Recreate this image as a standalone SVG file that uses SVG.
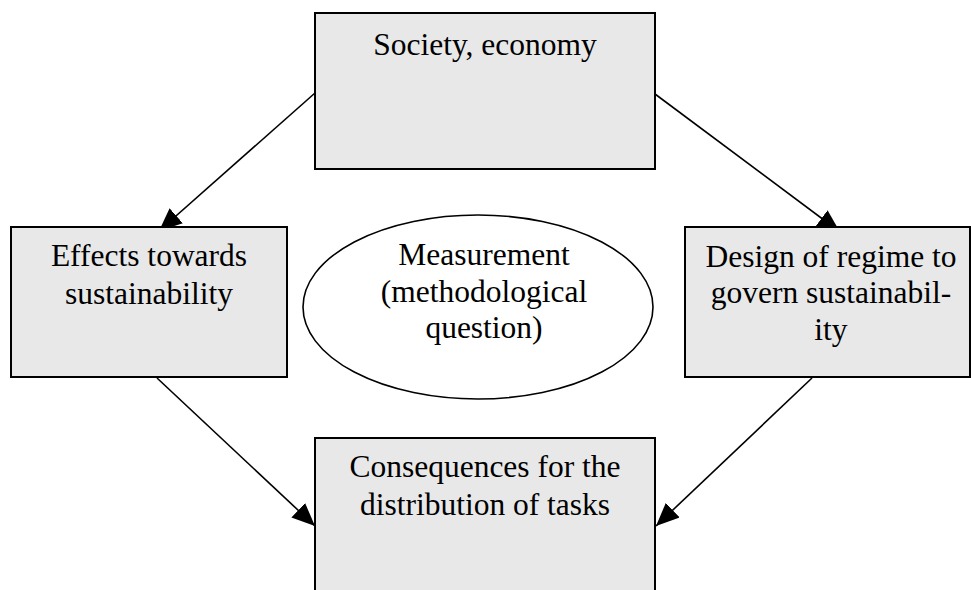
<svg xmlns="http://www.w3.org/2000/svg" width="971" height="590" viewBox="0 0 971 590">
<defs>
<style>
.box{fill:#e8e8e8;stroke:#000;stroke-width:2}
.ell{fill:#fff;stroke:#000;stroke-width:1.6}
.t{font-family:"Liberation Serif","Times New Roman",serif;font-size:31.5px;fill:#000;text-anchor:middle}
.c{stroke:#000;stroke-width:1.6;fill:none}
</style>
<marker id="ah" markerUnits="userSpaceOnUse" markerWidth="23" markerHeight="20" refX="23" refY="10" orient="auto" viewBox="0 0 23 20">
<path d="M0,0 L23,10 L0,20 z" fill="#000"/>
</marker>
</defs>
<rect width="971" height="590" fill="#fff"/>
<g id="connectors">
<line class="c" x1="315" y1="93" x2="159" y2="231" marker-end="url(#ah)"/>
<line class="c" x1="655" y1="94" x2="840" y2="232" marker-end="url(#ah)"/>
<line class="c" x1="157" y1="378" x2="315" y2="526" marker-end="url(#ah)"/>
<line class="c" x1="812" y1="378" x2="656" y2="526" marker-end="url(#ah)"/>
</g>
<g id="society">
<rect class="box" x="315" y="13" width="340" height="156"/>
<text class="t" x="485" y="55">Society, economy</text>
</g>
<g id="effects">
<rect class="box" x="11" y="227" width="276" height="150"/>
<text class="t" x="149" y="266">Effects towards</text>
<text class="t" x="149" y="304">sustainability</text>
</g>
<g id="measurement">
<ellipse class="ell" cx="478" cy="307" rx="175" ry="92"/>
<text class="t" x="484" y="265">Measurement</text>
<text class="t" x="484" y="302">(methodological</text>
<text class="t" x="484" y="338">question)</text>
</g>
<g id="design">
<rect class="box" x="685" y="227" width="285" height="150"/>
<text class="t" x="831" y="267">Design of regime to</text>
<text class="t" x="831" y="303">govern sustainabil-</text>
<text class="t" x="831" y="340">ity</text>
</g>
<g id="consequences">
<rect class="box" x="315" y="438" width="340" height="160"/>
<text class="t" x="485" y="477">Consequences for the</text>
<text class="t" x="485" y="515">distribution of tasks</text>
</g>
</svg>
